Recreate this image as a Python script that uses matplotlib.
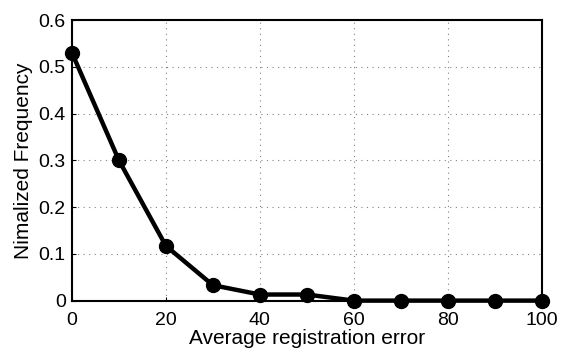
import matplotlib.pyplot as plt

# data
error = [0, 10, 20, 30, 40, 50, 60, 70, 80, 90, 100]
freq = [0.53, 0.30, 0.117, 0.033, 0.013, 0.013, 0.0, 0.0, 0.0, 0.0, 0.0]
xticks = [0, 20, 40, 60, 80, 100]
yticks = [0, 0.1, 0.2, 0.3, 0.4, 0.5, 0.6]
yticklabels = ['0', '0.1', '0.2', '0.3', '0.4', '0.5', '0.6']

plt.rcParams['font.family'] = ['Liberation Sans', 'DejaVu Sans']

fig = plt.figure(figsize=(5.62, 3.52), dpi=100)
ax = fig.add_axes([0.128, 0.146, 0.836, 0.797])

ax.plot(error, freq, color='black', linewidth=3.2, marker='o', markersize=10,
        clip_on=False, zorder=3)

ax.set_xlim(0, 100)
ax.set_ylim(0, 0.6)
ax.set_xticks(xticks)
ax.set_yticks(yticks)
ax.set_yticklabels(yticklabels)
ax.tick_params(direction='in', length=3, labelsize=14)
ax.tick_params(axis='x', pad=8)
ax.tick_params(axis='y', pad=4.5)
ax.grid(True, linestyle=(0, (1, 4)), color='gray', linewidth=0.8)
for s in ax.spines.values():
    s.set_linewidth(1.5)

ax.set_xlabel('Average registration error', fontsize=15, labelpad=0)
ax.set_ylabel('Nimalized Frequency', fontsize=15, labelpad=4)

fig.savefig('out.png', dpi=100)
